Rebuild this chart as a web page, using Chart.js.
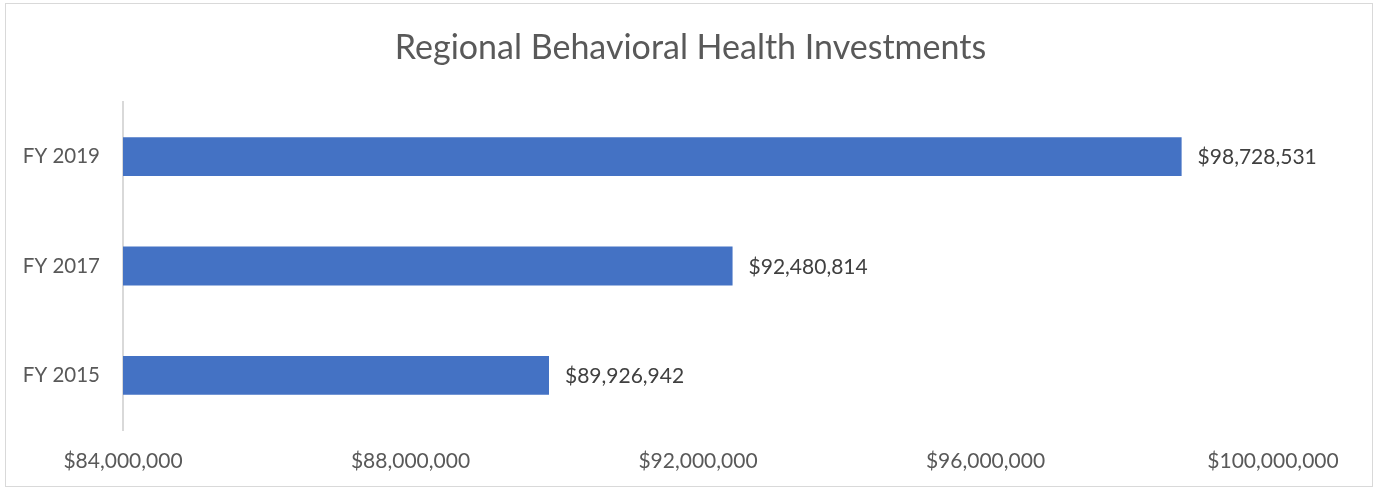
<!DOCTYPE html>
<html>
<head>
<meta charset="utf-8">
<script src="https://cdn.jsdelivr.net/npm/chart.js@4.4.1/dist/chart.umd.min.js"></script>
<style>
  html, body { margin: 0; padding: 0; background: #fff; }
  #caja { position: relative; width: 1377px; height: 488px; }
  #marco { position: absolute; left: 5px; top: 3px; width: 1366px; height: 482px; border: 1px solid #d9d9d9; }
  canvas { position: absolute; left: 0; top: 0; }
</style>
</head>
<body>
<div id="caja">
  <div id="marco"></div>
  <canvas id="grafico" width="1377" height="488"></canvas>
</div>
<script>
// Datos
const años = ['FY 2019', 'FY 2017', 'FY 2015'];
const inversiones = [98728531, 92480814, 89926942];
const ejeMin = 84000000;
const ejeMax = 100000000;
const ejePaso = 4000000;
const titulo = 'Regional Behavioral Health Investments';

const formatoDolar = v => '$' + Math.round(v).toLocaleString('en-US');

// Título centrado en todo el lienzo (el de Chart.js se desplaza con el padding)
const tituloCentrado = {
  id: 'tituloCentrado',
  afterDraw(chart) {
    const ctx = chart.ctx;
    ctx.save();
    ctx.font = '34px Lato';
    ctx.fillStyle = '#595959';
    ctx.textAlign = 'center';
    ctx.textBaseline = 'middle';
    ctx.fillText(titulo, chart.width / 2 + 2, 48);
    ctx.restore();
  }
};

// Etiquetas de valor al final de cada barra
const etiquetasBarras = {
  id: 'etiquetasBarras',
  afterDatasetsDraw(chart) {
    const ctx = chart.ctx;
    const meta = chart.getDatasetMeta(0);
    ctx.save();
    ctx.font = '21px Lato';
    ctx.fillStyle = '#404040';
    ctx.textAlign = 'left';
    ctx.textBaseline = 'middle';
    meta.data.forEach((barra, i) => {
      ctx.fillText(formatoDolar(inversiones[i]), barra.x + 16, barra.y + 1);
    });
    ctx.restore();
  }
};

new Chart(document.getElementById('grafico'), {
  type: 'bar',
  data: {
    labels: años,
    datasets: [{
      data: inversiones,
      backgroundColor: '#4472c4',
      borderWidth: 0,
      categoryPercentage: 1,
      barPercentage: 0.355
    }]
  },
  options: {
    indexAxis: 'y',
    responsive: false,
    animation: false,
    layout: { padding: { left: 0, right: 104, top: 102, bottom: 0 } },
    plugins: {
      legend: { display: false },
      tooltip: { enabled: false },
      title: { display: false }
    },
    scales: {
      x: {
        min: ejeMin,
        max: ejeMax,
        ticks: {
          stepSize: ejePaso,
          color: '#595959',
          font: { family: 'Lato', size: 21 },
          padding: 19,
          maxRotation: 0,
          callback: v => formatoDolar(v)
        },
        grid: { display: false, drawTicks: false },
        border: { display: false },
        afterFit(escala) { escala.height = 58; }
      },
      y: {
        ticks: {
          color: '#595959',
          font: { family: 'Lato', size: 20.5 },
          padding: 23
        },
        grid: { display: false, drawTicks: false },
        border: { display: true, color: '#d9d9d9', width: 2 },
        afterFit(escala) { escala.width = 123; }
      }
    }
  },
  plugins: [etiquetasBarras, tituloCentrado]
});
</script>
</body>
</html>
